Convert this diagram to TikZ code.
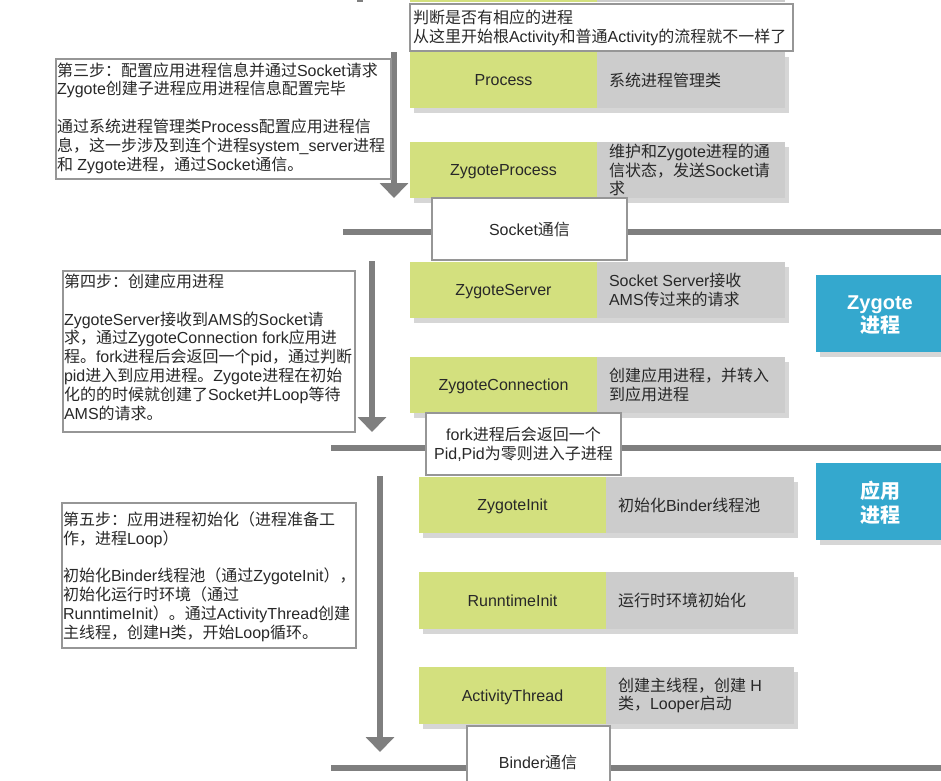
\documentclass[tikz,border=0pt]{standalone}
\usepackage{fontspec}
\setmainfont{Liberation Sans}
\newfontfamily\cjkfont{Noto Sans CJK SC}
\newfontfamily\latinfont{Liberation Sans}
\usetikzlibrary{shadows,arrows.meta}
\XeTeXinterchartokenstate=1
\newXeTeXintercharclass\CJKcls
\makeatletter
\def\setcjkrange#1#2{\count@=#1\relax\loop\XeTeXcharclass\count@=\CJKcls\relax\ifnum\count@<#2\relax\advance\count@ by 1\relax\repeat}
\makeatother
\setcjkrange{"3000}{"303F}
\setcjkrange{"4E00}{"9FFF}
\setcjkrange{"FF00}{"FFEF}
\XeTeXinterchartoks 0 \CJKcls = {\cjkfont}
\XeTeXinterchartoks 4095 \CJKcls = {\cjkfont}
\XeTeXinterchartoks \CJKcls 0 = {\latinfont}
\XeTeXinterchartoks \CJKcls 4095 = {\latinfont}
\definecolor{grn}{RGB}{211,224,126}
\definecolor{gry}{RGB}{204,204,204}
\definecolor{blu}{RGB}{52,168,206}
\definecolor{lnc}{RGB}{127,127,127}
\definecolor{bdc}{RGB}{150,150,150}
\definecolor{txt}{RGB}{40,40,40}
\begin{document}
\begin{tikzpicture}[x=1pt,y=-1pt,
  every node/.style={inner sep=0pt,outer sep=0pt,text=txt,font=\fontsize{16}{18.8}\selectfont},
  rowshadow/.style={drop shadow={shadow xshift=4pt,shadow yshift=-5pt,fill=black,opacity=0.16}},
  labbox/.style={rowshadow,fill=grn,minimum width=187pt,minimum height=56pt,anchor=north west,text height=12pt,text depth=0.5pt},
  descbox/.style={rowshadow,fill=gry,minimum width=188pt,minimum height=56pt,anchor=north west},
  desctext/.style={anchor=west,align=left},
  notebox/.style={draw=bdc,line width=1.2pt,fill=white,anchor=north west},
  bluebox/.style={rowshadow,fill=blu,anchor=north west,minimum width=127pt,minimum height=77pt},
  bluetext/.style={text=white,align=center,font=\fontsize{20}{23.5}\selectfont\bfseries},
  sepline/.style={draw=lnc,line width=6pt},
  flowarrow/.style={draw=lnc,line width=6pt,-{Triangle[width=28pt,length=15pt]}}
]
\useasboundingbox[fill=white] (0,0) rectangle (941,780);

% partial row and arrow tail at the very top
\fill[grn] (410,0) rectangle (597,2);
\fill[gry] (597,0) rectangle (785,2);
\fill[lnc] (357,0) rectangle (363,2);

% separator lines
\coordinate (l1a) at (343,232); \coordinate (l1b) at (945,232);
\coordinate (l2a) at (331,448); \coordinate (l2b) at (945,448);
\coordinate (l3a) at (331,768); \coordinate (l3b) at (945,768);
\draw[sepline] (l1a) -- (l1b);
\draw[sepline] (l2a) -- (l2b);
\draw[sepline] (l3a) -- (l3b);

% flow arrows
\coordinate (a1s) at (394,52);  \coordinate (a1e) at (394,198);
\coordinate (a2s) at (372,261); \coordinate (a2e) at (372,432);
\coordinate (a3s) at (380,476); \coordinate (a3e) at (380,752);
\draw[flowarrow] (a1s) -- (a1e);
\draw[flowarrow] (a2s) -- (a2e);
\draw[flowarrow] (a3s) -- (a3e);

% rows
\node[labbox] (proc) at (410,52) {Process};
\node[descbox] (procd) at (597,52) {};
\node[desctext] (proct) at ([xshift=12pt]procd.west) {系统进程管理类};

\node[labbox] (zp) at (410,142) {ZygoteProcess};
\node[descbox] (zpd) at (597,142) {};
\node[desctext] (zpt) at ([xshift=12pt]zpd.west) {维护和Zygote进程的通\\信状态，发送Socket请\\求};

\node[labbox] (zs) at (410,262) {ZygoteServer};
\node[descbox] (zsd) at (597,262) {};
\node[desctext] (zst) at ([xshift=12pt]zsd.west) {Socket Server接收\\AMS传过来的请求};

\node[labbox] (zc) at (410,357) {ZygoteConnection};
\node[descbox] (zcd) at (597,357) {};
\node[desctext] (zct) at ([xshift=12pt]zcd.west) {创建应用进程，并转入\\到应用进程};

\node[labbox] (zi) at (419,477) {ZygoteInit};
\node[descbox] (zid) at (606,477) {};
\node[desctext] (zit) at ([xshift=12pt]zid.west) {初始化Binder线程池};

\node[labbox,minimum height=57pt] (ri) at (419,572) {RunntimeInit};
\node[descbox,minimum height=57pt] (rid) at (606,572) {};
\node[desctext] (rit) at ([xshift=12pt]rid.west) {运行时环境初始化};

\node[labbox,minimum height=57pt] (at) at (419,667) {ActivityThread};
\node[descbox,minimum height=57pt] (atd) at (606,667) {};
\node[desctext] (att) at ([xshift=12pt]atd.west) {创建主线程，创建 H\\类，Looper启动};

% blue process labels
\node[bluebox] (zyg) at (816,275) {};
\node[bluetext] (zygt) at (880,315) {Zygote\\进程};
\node[bluebox] (app) at (816,463) {};
\node[bluetext] (appt) at (880,503) {应用\\进程};

% note boxes on the flow
\node[notebox,minimum width=383pt,minimum height=47pt] (top) at (410,4) {};
\node[desctext] (topt) at (413,27.5) {判断是否有相应的进程\\从这里开始根Activity和普通Activity的流程就不一样了};

\node[notebox,minimum width=195pt,minimum height=62pt] (sock) at (432,198) {};
\node (sockt) at (sock.center) {Socket通信};

\node[notebox,minimum width=195pt,minimum height=62pt] (fork) at (426,413) {};
\node[align=center] (forkt) at (fork.center) {fork进程后会返回一个\\Pid,Pid为零则进入子进程};

\node[notebox,minimum width=143pt,minimum height=70pt] (bind) at (467,726) {};
\node (bindt) at (538,762) {Binder通信};

% step descriptions
\node[notebox,minimum width=335pt,minimum height=120pt] (s3) at (56,59) {};
\node[anchor=north west,align=left] (s3t) at (57,62.5) {第三步：配置应用进程信息并通过Socket请求\\Zygote创建子进程应用进程信息配置完毕\\[18.8pt]通过系统进程管理类Process配置应用进程信\\息，这一步涉及到连个进程system\_server进程\\和 Zygote进程，通过Socket通信。};

\node[notebox,minimum width=292pt,minimum height=161pt] (s4) at (63,271) {};
\node[anchor=north west,align=left] (s4t) at (64,274) {第四步：创建应用进程\\[18.8pt]ZygoteServer接收到AMS的Socket请\\求，通过ZygoteConnection fork应用进\\程。fork进程后会返回一个pid，通过判断\\pid进入到应用进程。Zygote进程在初始\\化的的时候就创建了Socket并Loop等待\\AMS的请求。};

\node[notebox,minimum width=294pt,minimum height=145pt] (s5) at (62,503) {};
\node[anchor=north west,align=left] (s5t) at (63,511.5) {第五步：应用进程初始化（进程准备工\\作，进程Loop）\\[18.8pt]初始化Binder线程池（通过ZygoteInit），\\初始化运行时环境（通过\\RunntimeInit）。通过ActivityThread创建\\主线程，创建H类，开始Loop循环。};
\end{tikzpicture}
\end{document}
